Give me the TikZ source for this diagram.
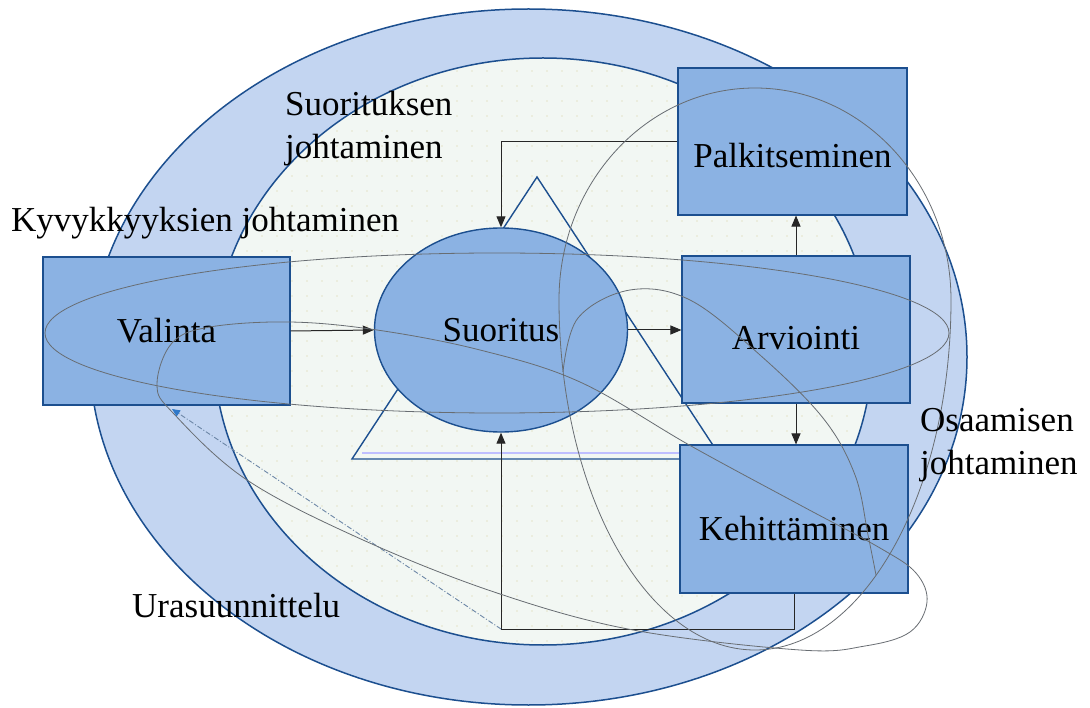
\documentclass[tikz,border=0pt]{standalone}
\usepackage{fontspec}
\setmainfont{Liberation Serif}
\usetikzlibrary{shapes.geometric,arrows.meta,patterns.meta}

\definecolor{ringblue}{HTML}{C3D5F1}
\definecolor{innerpale}{HTML}{F2F7F3}
\definecolor{boxblue}{HTML}{8BB2E3}
\definecolor{edgeblue}{HTML}{1C4F8F}
\definecolor{swirlgray}{HTML}{686D72}
\definecolor{dotcol}{HTML}{D8D09A}
\definecolor{dashblue}{HTML}{6C86A6}
\definecolor{tipblue}{HTML}{2F78C8}

\pgfdeclarepattern{
  name=sparsedots,
  type=uncolored,
  bottom left={\pgfpoint{0pt}{0pt}},
  top right={\pgfpoint{15pt}{15pt}},
  tile size={\pgfpoint{15pt}{15pt}},
  code={\pgfpathcircle{\pgfpoint{7.5pt}{7.5pt}}{0.7pt}\pgfusepath{fill}}
}

\newcommand\lblfont{\fontsize{35}{43}\selectfont}
\newcommand\lowered[2]{\raisebox{-#1}[\height][\depth]{#2}}

\tikzset{
  boxnode/.style={rectangle, draw=edgeblue, line width=1.1pt, fill=boxblue,
    inner sep=0pt, font=\lblfont},
  conn/.style={draw=black!85, line width=1pt, -{Triangle[length=11pt,width=9pt]}},
  swirl/.style={draw=swirlgray, line width=0.8pt},
  bigline/.style={draw=edgeblue, line width=1.5pt},
  freetext/.style={font=\lblfont, inner sep=0pt, text=black},
}

\begin{document}
\begin{tikzpicture}[x=1pt, y=-1pt]
\useasboundingbox (0,0) rectangle (1090,708);
\fill[white] (0,0) rectangle (1090,708);

% background ellipses
\draw[bigline, fill=ringblue] (528.5,357) ellipse [x radius=438.5, y radius=348];
\draw[bigline, fill=innerpale] (543,351.5) ellipse [x radius=329, y radius=293.5];
\fill[pattern={sparsedots}, pattern color=dotcol] (543,351.5) ellipse [x radius=327, y radius=291.5];

% triangle
\draw[draw=blue!25, line width=1.5pt] (362,453) -- (680,453);
\draw[bigline, line width=1.4pt] (537,177) -- (352,459) -- (722,459) -- cycle;

% nodes
\node[boxnode, minimum width=247pt, minimum height=148pt] (val) at (166.5,331) {Valinta};
\node[ellipse, draw=edgeblue, line width=1.4pt, fill=boxblue, inner sep=0pt,
      minimum width=253pt, minimum height=204pt, font=\lblfont] (suor) at (501,330) {Suoritus};
\node[boxnode, minimum width=229pt, minimum height=147pt] (palk) at (792.5,141.5) {\lowered{14pt}{Palkitseminen}};
\node[boxnode, minimum width=228pt, minimum height=147pt] (arv) at (796,329.5) {\lowered{9pt}{Arviointi}};
\node[boxnode, minimum width=228pt, minimum height=148pt] (keh) at (794,519) {\lowered{10pt}{Kehittäminen}};

% connectors
\coordinate (loopcorner) at (501,629);
\coordinate (valtip) at (172,409);
\draw[conn] (val.east) -- (suor.west);
\draw[conn] (suor.east) -- (suor.east -| arv.west);
\draw[conn] (arv.north) -- (arv.north |- palk.south);
\draw[conn] (arv.south) -- (arv.south |- keh.north);
\draw[conn] (palk.west) -| (suor.north);
\draw[draw=black!85, line width=1pt] (keh.south) |- (loopcorner);
\draw[conn] (loopcorner) -- (suor.south);
\draw[draw=dashblue, line width=0.9pt, dash pattern=on 5pt off 2pt on 1pt off 2pt,
      -{Triangle[length=8pt,width=7pt,color=tipblue]}] (loopcorner) -- (valtip);

% gray swirl loops
\draw[swirl] (497,333) ellipse [x radius=452, y radius=80];
% big egg-shaped loop on the right
\draw[swirl] (559,300) arc[start angle=180, end angle=360, x radius=196, y radius=212]
                       arc[start angle=0, end angle=180, x radius=196, y radius=350];
% arc over Arviointi, merging into the egg
\draw[swirl] plot[smooth, tension=0.6] coordinates {
  (563,372) (578,318) (630,290) (690,300) (760,355) (823,418) (855,475) (868,535) (876,575)};
% long tilted loop from Valinta to below Kehittaminen
\draw[swirl] plot[smooth cycle, tension=0.6] coordinates {
  (157,385) (172,343) (210,327) (290,322) (377,330) (480,350) (580,382)
  (691,446) (800,505) (880,548) (916,573) (927,602) (910,632) (865,646) (800,650)
  (633,630) (497,593) (363,540) (247,480) (174,414)};

% free texts
\node[freetext, anchor=base west] (tkyv) at (11,232) {Kyvykkyyksien johtaminen};
\node[freetext, anchor=north west, align=left] (tsuor) at (285,91) {Suorituksen\\johtaminen};
\node[freetext, anchor=north west, align=left] (tosa) at (920,408) {Osaamisen\\johtaminen};
\node[freetext, anchor=base west] (tura) at (132,617) {Urasuunnittelu};
\end{tikzpicture}
\end{document}
